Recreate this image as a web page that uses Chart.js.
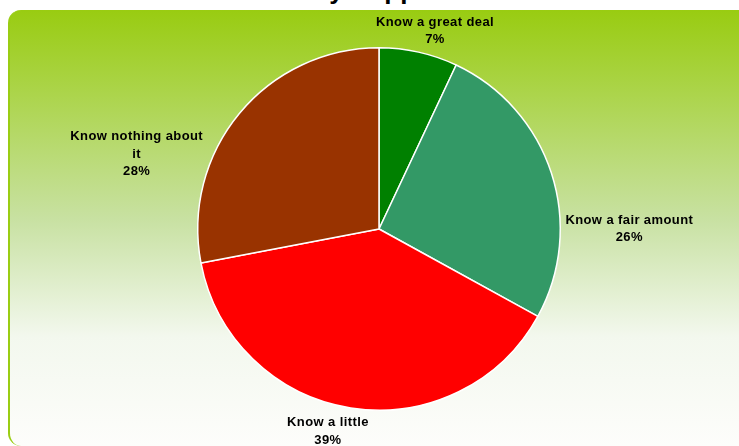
<!DOCTYPE html>
<html lang="en">
<head>
    <meta charset="UTF-8">
    <title>Awareness of Community Support</title>
    <script src="https://cdn.jsdelivr.net/npm/chart.js"></script>
    <style>
        html, body {
            margin: 0;
            padding: 0;
            width: 739px;
            height: 446px;
            overflow: hidden;
            background: #ffffff;
            font-family: "Liberation Sans", Arial, sans-serif;
        }
        .panel {
            position: absolute;
            left: 8px;
            top: 10px;
            width: 760px;
            height: 436px;
            border-left: 2px solid #9acd14;
            border-radius: 13px;
            background: linear-gradient(#99cc11, #c8e1a2 48%, #f3f8ee 75%, #fdfdfb);
        }
        #title {
            position: absolute;
            top: -23px;
            left: 0;
            font-size: 26px;
            line-height: 26px;
            font-weight: bold;
            white-space: nowrap;
            color: #000;
        }
        .chart-container {
            position: absolute;
            left: 0;
            top: 0;
            width: 739px;
            height: 446px;
        }
    </style>
</head>
<body>
    <div class="panel"></div>
    <div id="title"><span id="titleHead">Awareness of Communit</span>y Support</div>
    <div class="chart-container">
        <canvas id="pieChart"></canvas>
    </div>

    <script>
        // Dados do gráfico
        const categories = ['Know a great deal', 'Know a fair amount', 'Know a little', 'Know nothing about it'];
        const percents = [7, 26, 39, 28];
        const sliceColors = ['#008000', '#339966', '#ff0000', '#993300'];

        // posição dos rótulos, em raios a partir do centro da pizza
        const labelOffsets = [[0.309, -1.094], [1.381, 0.0], [-0.282, 1.116], [-1.337, -0.414]];

        // título cortado no topo
        const head = document.getElementById('titleHead');
        document.getElementById('title').style.left = (329 - head.offsetWidth) + 'px';

        function wrapText(ctx, text, maxWidth) {
            const words = text.split(' ');
            const lines = [];
            let line = '';
            words.forEach(w => {
                const test = line ? line + ' ' + w : w;
                if (line && ctx.measureText(test).width > maxWidth) {
                    lines.push(line);
                    line = w;
                } else {
                    line = test;
                }
            });
            lines.push(line);
            return lines;
        }

        const outsideLabels = {
            id: 'outsideLabels',
            afterDatasetsDraw(chart) {
                const ctx = chart.ctx;
                const meta = chart.getDatasetMeta(0);
                ctx.save();
                ctx.font = 'bold 13px "Liberation Sans", Arial, sans-serif';
                ctx.letterSpacing = '0.4px';
                ctx.fillStyle = '#000';
                ctx.textAlign = 'center';
                ctx.textBaseline = 'middle';
                meta.data.forEach((arc, i) => {
                    const p = arc.getProps(['x', 'y', 'outerRadius'], true);
                    const cx = p.x + labelOffsets[i][0] * p.outerRadius;
                    const cy = p.y + labelOffsets[i][1] * p.outerRadius;
                    const lines = wrapText(ctx, categories[i], 140);
                    lines.push(percents[i] + '%');
                    const lh = 17.5;
                    const top = cy - (lines.length - 1) * lh / 2;
                    lines.forEach((t, k) => ctx.fillText(t, cx, top + k * lh));
                });
                ctx.restore();
            }
        };

        new Chart(document.getElementById('pieChart'), {
            type: 'pie',
            data: {
                labels: categories,
                datasets: [{
                    data: percents,
                    backgroundColor: sliceColors,
                    borderColor: '#ffffff',
                    borderWidth: 1.5
                }]
            },
            options: {
                responsive: true,
                maintainAspectRatio: false,
                animation: false,
                layout: {
                    padding: { top: 47, bottom: 35, left: 197, right: 178 }
                },
                plugins: {
                    legend: { display: false },
                    tooltip: { enabled: false }
                }
            },
            plugins: [outsideLabels]
        });
    </script>
</body>
</html>
